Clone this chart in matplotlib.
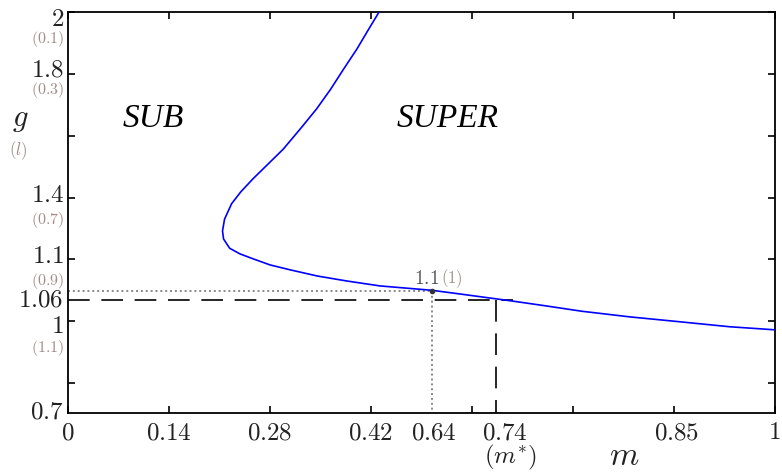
import matplotlib
matplotlib.use("Agg")
import matplotlib.pyplot as plt
import matplotlib.transforms as mtransforms

plt.rcParams['mathtext.fontset'] = 'cm'

# ---- data (positions in tick-index units) ----
curve_x = [3.08, 2.98, 2.86, 2.73, 2.60, 2.46, 2.30, 2.13, 1.98, 1.83, 1.71,
           1.62, 1.55, 1.53, 1.54, 1.60, 1.70, 1.83, 2.00, 2.20,
           2.47, 2.76, 3.09, 3.60, 3.88, 4.38, 4.72, 5.09, 5.56, 6.06, 6.55, 7.00]
curve_y = [6.00, 5.73, 5.40, 5.08, 4.75, 4.43, 4.11, 3.78, 3.54, 3.30, 3.09,
           2.90, 2.65, 2.46, 2.33, 2.18, 2.09, 2.01, 1.91, 1.83,
           1.73, 1.65, 1.57, 1.50, 1.44, 1.33, 1.25, 1.16, 1.07, 0.99, 0.91, 0.86]

x_ticks = [0, 1, 2, 3, 4, 5, 6, 7]
y_ticks = [0, 1, 2, 3, 4, 5, 6]

x_label_pos = [0, 1, 2, 3, 3.62, 4.33, 6.03, 6.99]
x_label_txt = ['0', '0.14', '0.28', '0.42', '0.64', '0.74', '0.85', '1']

y_label_pos = [5.90, 5.08, 3.06, 2.07, 1.36, 0.94, -0.45]
y_label_txt = ['2', '1.8', '1.4', '1.1', '1.06', '1', '0.7']

y_sub_pos = [5.58, 4.76, 2.66, 1.67, 0.59]
y_sub_txt = ['(0.1)', '(0.3)', '(0.7)', '(0.9)', '(1.1)']

point_x = [3.60]
point_y = [1.49]
dash_x = [0, 4.41]
dash_y = [1.34, 1.34]
dashv_x = [4.24, 4.24]
dashv_y = [1.34, -0.49]

GRAY = '#a08c88'

fig = plt.figure(figsize=(7.82, 4.77), dpi=100)
ax = fig.add_axes([68/782, 1 - 414/477, 707/782, 401/477])
ax.set_xlim(0, 7)
ax.set_ylim(-0.485, 6.0)

ax.plot(curve_x, curve_y, color='#0000ff', lw=1.2, zorder=3)

# dotted guide lines to the marked point
ax.plot([0, point_x[0]], [point_y[0], point_y[0]], ls=(0, (1, 1.5)), color='#888888', lw=1.4, zorder=2)
ax.plot([point_x[0], point_x[0]], [point_y[0], -0.49], ls=(0, (1, 1.5)), color='#888888', lw=1.4, zorder=2)
ax.plot(point_x, point_y, 'o', color='#333333', ms=3, zorder=4)

# dashed guide lines
ax.plot(dash_x, dash_y, ls=(0, (13, 7)), color='black', lw=1.2, zorder=2)
ax.plot(dashv_x, dashv_y, ls=(0, (13, 7)), color='black', lw=1.2, zorder=2)

ax.set_xticks(x_ticks)
ax.set_yticks(y_ticks)
ax.set_xticklabels([])
ax.set_yticklabels([])
ax.tick_params(direction='in', length=5, width=1.2, top=True, right=True)
for s in ax.spines.values():
    s.set_linewidth(1.3)

# axis labels as text
ytrans = mtransforms.blended_transform_factory(ax.transAxes, ax.transData)
for p, t in zip(y_label_pos, y_label_txt):
    ax.text(-0.006, p, '$' + t + '$', transform=ytrans, ha='right', va='center',
            fontsize=18, color='#222222', clip_on=False)
for p, t in zip(y_sub_pos, y_sub_txt):
    ax.text(-0.006, p, '$' + t + '$', transform=ytrans, ha='right', va='center',
            fontsize=11.5, color=GRAY, clip_on=False)
ax.text(-0.068, 4.27, '$g$', transform=ytrans, ha='center', va='center', fontsize=22, color='#222222')
ax.text(-0.071, 3.78, '$(l)$', transform=ytrans, ha='center', va='center', fontsize=12, color=GRAY)

for p, t in zip(x_label_pos, x_label_txt):
    ax.text(p, -0.78, '$' + t + '$', ha='center', va='center', fontsize=18, color='#222222', clip_on=False)
ax.text(4.38, -1.18, r'$(m^{*})$', ha='center', va='center', fontsize=18, color='#222222', clip_on=False)
ax.text(5.51, -1.16, r'$m$', ha='center', va='center', fontsize=24, color='#222222', clip_on=False)

# point label
ax.text(3.68, 1.70, r'$1.1$', ha='right', va='center', fontsize=14, color='#555555')
ax.text(3.69, 1.70, r'$(1)$', ha='left', va='center', fontsize=12, color=GRAY)

# region labels
ax.text(0.84, 4.29, 'SUB', ha='center', va='center', fontsize=24, style='italic',
        family='Liberation Serif')
ax.text(3.76, 4.29, 'SUPER', ha='center', va='center', fontsize=24, style='italic',
        family='Liberation Serif')

fig.savefig('out.png', dpi=100)
